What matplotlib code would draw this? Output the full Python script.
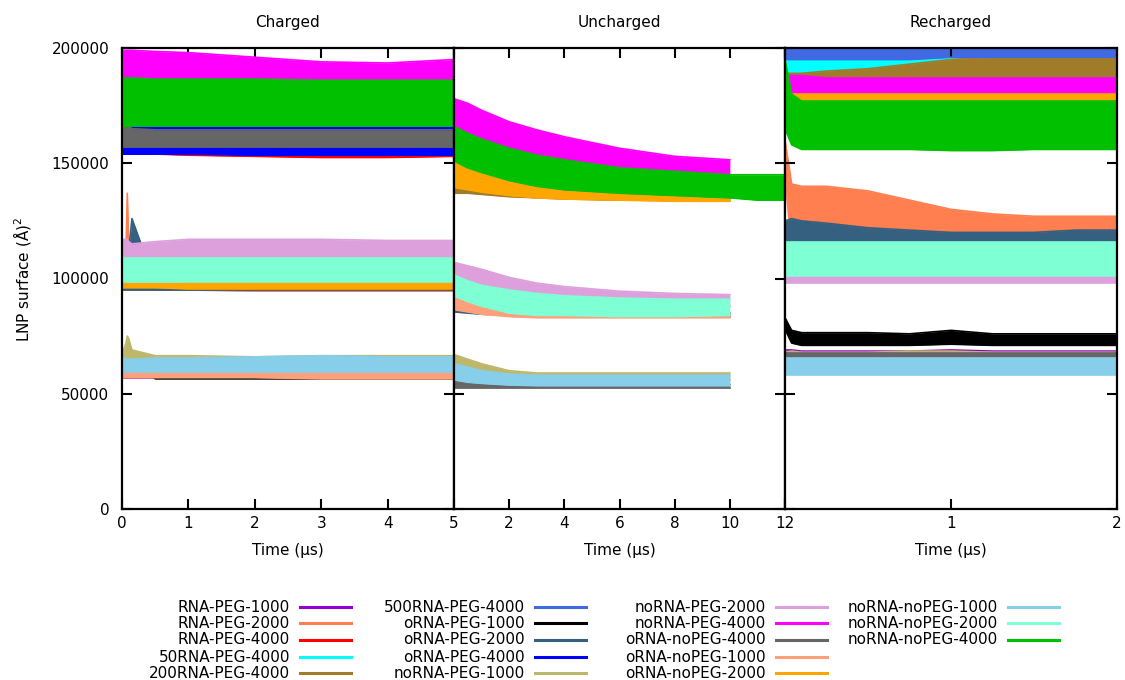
import numpy as np
import matplotlib
matplotlib.use("Agg")
import matplotlib.pyplot as plt
from matplotlib.lines import Line2D

# series names, in plotting / legend order
labels = ["RNA-PEG-1000", "RNA-PEG-2000", "RNA-PEG-4000", "50RNA-PEG-4000",
          "200RNA-PEG-4000", "500RNA-PEG-4000", "oRNA-PEG-1000", "oRNA-PEG-2000",
          "oRNA-PEG-4000", "noRNA-PEG-1000", "noRNA-PEG-2000", "noRNA-PEG-4000",
          "oRNA-noPEG-4000", "oRNA-noPEG-1000", "oRNA-noPEG-2000",
          "noRNA-noPEG-1000", "noRNA-noPEG-2000", "noRNA-noPEG-4000"]
colors = ["#9400d3", "#ff7f50", "#ff0000", "#00ffff", "#a07c2a", "#4169e1",
          "#000000", "#35607f", "#0000ff", "#bdb76b", "#dda0dd", "#ff00ff",
          "#666666", "#ffa07a", "#ffa500", "#87ceeb", "#7fffd4", "#00c000"]

# values are LNP surface in thousands of A^2, [lower edge, upper edge] of each noisy band

# ---- Charged (0-5 us)
ch_t = [0, 0.06, 0.08, 0.1, 0.15, 0.5, 1, 2, 3, 4, 5]
ch_rna_peg_1000 = [[57, 57, 57, 57, 57, 57, 57, 57, 57, 57, 57],
                   [58.5, 58.5, 58.5, 58.5, 58.5, 58.5, 58.5, 58.5, 58.5, 58.5, 58.5]]
ch_rna_peg_2000 = [[95, 95, 95, 95, 95, 95, 95, 94.5, 94.5, 94.5, 94.5],
                   [98, 112, 137, 114, 98, 98, 98, 98, 98, 98, 98]]
ch_rna_peg_4000 = [[154, 154, 154, 154, 154, 154, 153.5, 153, 152.5, 152.5, 153],
                   [160, 160, 160, 160, 160, 160, 160, 160, 160, 160, 160]]
ch_50rna_peg_4000 = [[154.5, 154.5, 154.5, 154.5, 154.5, 154.5, 154.5, 154.5, 154, 154, 154],
                     [160, 160, 160, 160, 160, 160, 160, 160, 160, 160, 160]]
ch_orna_peg_1000 = [[60, 62, 66, 66, 66, 56.5, 56.5, 56.5, 56.5, 56.5, 56.5],
                    [64, 66, 68.5, 68.5, 68.5, 58.5, 58.5, 58.5, 58.5, 58.5, 58.5]]
ch_orna_peg_2000 = [[95, 95, 95, 95, 95, 95, 95, 95, 95, 95, 95],
                    [98, 98, 98, 112, 126, 98, 98, 98, 98, 98, 98]]
ch_orna_peg_4000 = [[154, 154, 154, 154, 154, 154, 154, 153.5, 153.5, 153.5, 153.5],
                    [169, 169, 168, 167.5, 167.5, 167.5, 167.5, 167.5, 167.5, 167.5, 167.5]]
ch_norna_peg_1000 = [[62, 62, 62, 62, 62, 62, 62, 62, 62, 62, 62],
                     [67, 72, 75, 74, 69, 66.5, 66.5, 66, 66.5, 66.5, 66.5]]
ch_norna_peg_2000 = [[105, 105, 105, 105, 105, 105, 105, 105, 105, 105, 105],
                     [117, 117, 117, 116, 115, 116, 117, 117, 117, 116.5, 116.5]]
ch_norna_peg_4000 = [[180, 180, 180, 180, 180, 180, 180, 180, 180, 180, 180],
                     [199, 199, 199, 199, 199, 198.5, 198, 196, 194, 193.5, 195]]
ch_orna_nopeg_4000 = [[157, 157, 157, 157, 157, 157, 157, 157, 157, 157, 157],
                      [171, 169, 167, 166, 165, 164.5, 164.5, 164.5, 164.5, 164.5, 164.5]]
ch_orna_nopeg_1000 = [[57, 57, 57, 57, 57, 57, 57, 57, 56.5, 56.5, 56.5],
                      [59.5, 59.5, 59.5, 59.5, 59.5, 59.5, 59.5, 59.5, 59.5, 59.5, 59.5]]
ch_orna_nopeg_2000 = [[96, 96, 96, 96, 96, 96, 95.5, 95.5, 95.5, 95.5, 95.5],
                      [99, 99, 99, 99, 99, 99, 98.5, 98.5, 98.5, 98.5, 98.5]]
ch_norna_nopeg_1000 = [[59.5, 59.5, 59.5, 59.5, 59.5, 59.5, 59.5, 59.5, 59.5, 59.5, 59.5],
                       [66, 65, 65, 65, 65, 65.5, 65.5, 66, 66.5, 66, 66]]
ch_norna_nopeg_2000 = [[98.5, 98.5, 98.5, 98.5, 98.5, 98.5, 98.5, 98.5, 98.5, 98.5, 98.5],
                       [109, 109, 109, 109, 109, 109, 109, 109, 109, 109, 109]]
ch_norna_nopeg_4000 = [[166, 166, 166, 166, 166, 166, 166, 166, 166, 166, 166],
                       [187, 187, 187, 187, 187, 186.5, 186.5, 186.5, 186, 186, 186]]

# ---- Uncharged (0-12 us)
un_t = [0, 0.5, 1, 2, 3, 4, 6, 8, 10]
un_t_long = [0, 0.5, 1, 2, 3, 4, 6, 8, 10, 11, 12]
un_200rna_peg_4000 = [[137, 137, 136.5, 135.5, 135, 134.5, 134, 134, 134],
                      [140.5, 139.5, 139, 138, 137, 136.5, 136, 136, 136]]
un_orna_peg_2000 = [[85.5, 85, 84.5, 84, 83.5, 83.5, 83.5, 83.5, 83.5],
                    [88.5, 87.5, 86.5, 85.5, 85, 85, 85, 85, 85]]
un_norna_peg_1000 = [[58, 57, 56, 56, 56, 56, 56, 56, 56],
                     [67, 65, 63, 60, 59, 59, 59, 59, 59]]
un_norna_peg_2000 = [[95, 93, 92, 90, 89, 88.5, 88, 88, 88],
                     [107, 105.5, 104, 100.5, 98, 96.5, 94.5, 93.5, 93]]
un_norna_peg_4000 = [[160, 157, 155, 151, 148, 146, 143.5, 143, 143],
                     [178, 176, 173, 168, 164.5, 161.5, 156.5, 153, 151.5]]
un_orna_nopeg_4000 = [[52.5, 52.5, 52.5, 52.5, 52.5, 52.5, 52.5, 52.5, 52.5],
                      [57, 55.5, 54.5, 54, 54, 54, 54, 54, 54]]
un_orna_nopeg_1000 = [[86.5, 85.5, 84.5, 83.5, 83, 83, 83, 83, 83],
                      [92, 90, 88, 86, 85, 84.5, 84.5, 84.5, 84.5]]
un_orna_nopeg_2000 = [[139.5, 138.5, 137.5, 136, 135, 134.5, 134, 133.5, 133.5],
                      [151, 148, 146, 143, 141, 140, 138.5, 137.5, 137]]
un_norna_nopeg_1000 = [[56, 55, 54.5, 53.8, 53.5, 53.5, 53.5, 53.5, 53.5],
                       [63, 61.5, 60, 58.5, 58, 58, 58, 58, 58]]
un_norna_nopeg_2000 = [[92.5, 90, 88, 85, 84, 84, 83.5, 83.5, 84],
                       [101.5, 99, 97, 95, 93.5, 92.5, 91.5, 91, 91]]
un_norna_nopeg_4000 = [[151, 148, 146, 142.5, 140, 138.5, 137, 136, 135, 134, 134],
                       [166, 163, 160.5, 156.5, 153.5, 151.5, 148, 146.5, 145, 145, 145]]

# ---- Recharged (0-2 us)
re_t = [0, 0.04, 0.1, 0.25, 0.5, 0.75, 1, 1.25, 1.5, 1.75, 2]
re_rna_peg_1000 = [[62, 62, 62, 62, 62, 62, 62, 62, 62, 62, 62],
                   [69, 69, 68.5, 68.5, 68.5, 68.5, 69, 68.5, 68.5, 68.5, 68.5]]
re_rna_peg_2000 = [[145, 112, 112, 114, 115, 115, 115, 114, 114, 114, 114],
                   [160, 141, 140, 140, 138, 134, 130, 128, 127, 127, 127]]
re_rna_peg_4000 = [[188, 188, 188, 188, 188, 188, 188, 188, 188, 188, 188],
                   [205, 205, 205, 205, 205, 205, 205, 205, 205, 205, 205]]
re_50rna_peg_4000 = [[184, 183, 183, 183, 183, 184, 185, 186, 187, 188, 188],
                     [203, 203, 203, 203, 203, 203, 203, 203, 203, 203, 203]]
re_200rna_peg_4000 = [[180, 180, 180, 180, 179, 179, 179, 179, 179, 179, 179],
                      [189, 189, 189, 190, 191, 193, 195, 196, 196, 196, 196]]
re_500rna_peg_4000 = [[195, 195, 195, 195, 195, 195, 196, 196, 196, 196, 196],
                      [203, 203, 203, 203, 203, 203, 203, 203, 203, 203, 203]]
re_orna_peg_1000 = [[78, 72, 71, 71, 71, 71, 71.5, 71, 71, 71, 71],
                    [83, 77.5, 76.5, 76.5, 76.5, 76, 77.5, 76, 76, 76, 76]]
re_orna_peg_2000 = [[105, 108, 109, 110, 110, 111, 111, 111, 111, 111, 111],
                    [125, 126, 125, 124, 122, 121, 120, 120, 120, 121, 121]]
re_orna_peg_4000 = [[174, 174, 174, 174, 174, 174, 174, 174, 174, 174, 174],
                    [185, 185, 185, 185, 185, 185, 185, 185, 185, 185, 185]]
re_norna_peg_1000 = [[61, 61, 61, 61, 61, 61, 61, 61, 61, 61, 61],
                     [68, 68.5, 68, 68, 68, 68.5, 68.5, 68, 68, 68, 68]]
re_norna_peg_2000 = [[98, 98, 98, 98, 98, 98, 98, 98, 98, 98, 98],
                     [113, 113, 113, 113, 113, 113, 113, 113, 113, 113, 113]]
re_norna_peg_4000 = [[172, 172, 172, 172, 172, 172, 172, 172, 172, 172, 172],
                     [188, 188, 188, 187, 187, 187, 187, 187, 187, 187, 187]]
re_orna_nopeg_4000 = [[61, 61, 61, 61, 61, 61, 61, 61, 61, 61, 61],
                      [67.5, 67.5, 67.5, 67.5, 67.5, 67.5, 67.5, 67.5, 67.5, 67.5, 67.5]]
re_orna_nopeg_2000 = [[174, 174, 174, 174, 174, 174, 174, 174, 174, 174, 174],
                      [180, 180, 180, 180, 180, 180, 180, 180, 180, 180, 180]]
re_norna_nopeg_1000 = [[58, 58, 58, 58, 58, 58, 58, 58, 58, 58, 58],
                       [65.5, 65.5, 65.5, 65.5, 65.5, 65.5, 65.5, 65.5, 65.5, 65.5, 65.5]]
re_norna_nopeg_2000 = [[101, 101, 101, 101, 101, 101, 101, 101, 101, 101, 101],
                       [116, 116, 116, 116, 116, 116, 116, 116, 116, 116, 116]]
re_norna_nopeg_4000 = [[165, 158, 156, 156, 156, 156, 155.5, 155.5, 156, 156, 156],
                       [195, 180, 177, 177, 177, 177, 177, 177, 177, 177, 177]]

charged = {"RNA-PEG-1000": ch_rna_peg_1000, "RNA-PEG-2000": ch_rna_peg_2000,
           "RNA-PEG-4000": ch_rna_peg_4000, "50RNA-PEG-4000": ch_50rna_peg_4000,
           "oRNA-PEG-1000": ch_orna_peg_1000, "oRNA-PEG-2000": ch_orna_peg_2000,
           "oRNA-PEG-4000": ch_orna_peg_4000, "noRNA-PEG-1000": ch_norna_peg_1000,
           "noRNA-PEG-2000": ch_norna_peg_2000, "noRNA-PEG-4000": ch_norna_peg_4000,
           "oRNA-noPEG-4000": ch_orna_nopeg_4000, "oRNA-noPEG-1000": ch_orna_nopeg_1000,
           "oRNA-noPEG-2000": ch_orna_nopeg_2000, "noRNA-noPEG-1000": ch_norna_nopeg_1000,
           "noRNA-noPEG-2000": ch_norna_nopeg_2000, "noRNA-noPEG-4000": ch_norna_nopeg_4000}
uncharged = {"200RNA-PEG-4000": un_200rna_peg_4000, "oRNA-PEG-2000": un_orna_peg_2000,
             "noRNA-PEG-1000": un_norna_peg_1000, "noRNA-PEG-2000": un_norna_peg_2000,
             "noRNA-PEG-4000": un_norna_peg_4000, "oRNA-noPEG-4000": un_orna_nopeg_4000,
             "oRNA-noPEG-1000": un_orna_nopeg_1000, "oRNA-noPEG-2000": un_orna_nopeg_2000,
             "noRNA-noPEG-1000": un_norna_nopeg_1000, "noRNA-noPEG-2000": un_norna_nopeg_2000,
             "noRNA-noPEG-4000": un_norna_nopeg_4000}
recharged = {"RNA-PEG-1000": re_rna_peg_1000, "RNA-PEG-2000": re_rna_peg_2000,
             "RNA-PEG-4000": re_rna_peg_4000, "50RNA-PEG-4000": re_50rna_peg_4000,
             "200RNA-PEG-4000": re_200rna_peg_4000, "500RNA-PEG-4000": re_500rna_peg_4000,
             "oRNA-PEG-1000": re_orna_peg_1000, "oRNA-PEG-2000": re_orna_peg_2000,
             "oRNA-PEG-4000": re_orna_peg_4000, "noRNA-PEG-1000": re_norna_peg_1000,
             "noRNA-PEG-2000": re_norna_peg_2000, "noRNA-PEG-4000": re_norna_peg_4000,
             "oRNA-noPEG-4000": re_orna_nopeg_4000, "oRNA-noPEG-2000": re_orna_nopeg_2000,
             "noRNA-noPEG-1000": re_norna_nopeg_1000, "noRNA-noPEG-2000": re_norna_nopeg_2000,
             "noRNA-noPEG-4000": re_norna_nopeg_4000}

W, H = 1125, 680
fig = plt.figure(figsize=(W / 100, H / 100), dpi=100)


def fx(px):
    return px / W


def fy(py):
    return 1 - py / H


panels = [
    ("Charged", charged, ch_t, (0, 5), [0, 1, 2, 3, 4, 5], ["0", "1", "2", "3", "4", "5"], 122, 454),
    ("Uncharged", uncharged, un_t, (0, 12), [0, 2, 4, 6, 8, 10, 12], ["", "2", "4", "6", "8", "10", "12"], 454, 785),
    ("Recharged", recharged, re_t, (0, 2), [0, 1, 2], ["", "1", "2"], 785, 1117),
]
top, bot = 48, 509

for i, (title, data, t, xlim, xt, xtl, x0, x1) in enumerate(panels):
    ax = fig.add_axes([fx(x0), fy(bot), fx(x1 - x0), fy(top) - fy(bot)])
    for k, (lab, col) in enumerate(zip(labels, colors)):
        if lab not in data:
            continue
        lo, hi = data[lab]
        tt = t if len(lo) == len(t) else un_t_long
        lo = np.array(lo) * 1000
        hi = np.array(hi) * 1000
        z = 1 + k * 0.1
        ax.fill_between(tt, lo, hi, color=col, lw=0, zorder=z)
        ax.plot(tt, lo, color=col, lw=1.2, zorder=z + 0.05)
        ax.plot(tt, hi, color=col, lw=1.2, zorder=z + 0.05)
    ax.set_xlim(*xlim)
    ax.set_ylim(0, 200000)
    ax.set_xticks(xt)
    ax.set_xticklabels(xtl)
    ax.set_yticks([0, 50000, 100000, 150000, 200000])
    if i == 0:
        ax.set_yticklabels(["0", "50000", "100000", "150000", "200000"])
    ax.tick_params(direction="in", length=7, width=1.5, top=True, right=True,
                   labelleft=(i == 0), labelsize=11, colors="black")
    ax.tick_params(axis="y", pad=9)
    ax.tick_params(axis="x", pad=5)
    for sp in ax.spines.values():
        sp.set_linewidth(1.6)
        sp.set_zorder(10)
    fig.text(fx((x0 + x1) / 2), fy(22), title, ha="center", va="center", fontsize=11)
    fig.text(fx((x0 + x1) / 2), fy(550), "Time (\u03bcs)", ha="center", va="center", fontsize=11)

fig.text(fx(22), fy(279), "LNP surface (\u00c5)$^2$", rotation=90, ha="center", va="center", fontsize=11)

# legend: four columns, label right aligned before its line sample
col_right = [290, 525, 766, 998]
row_y = [607, 623, 640, 657, 673]
for k, (lab, col) in enumerate(zip(labels, colors)):
    c, r = divmod(k, 5)
    xr = col_right[c]
    y = row_y[r]
    fig.text(fx(xr), fy(y), lab, ha="right", va="center", fontsize=11)
    fig.add_artist(Line2D([fx(xr + 10), fx(xr + 61)], [fy(y), fy(y)], color=col, lw=2.2,
                          transform=fig.transFigure))

fig.savefig("out.png", dpi=100)
